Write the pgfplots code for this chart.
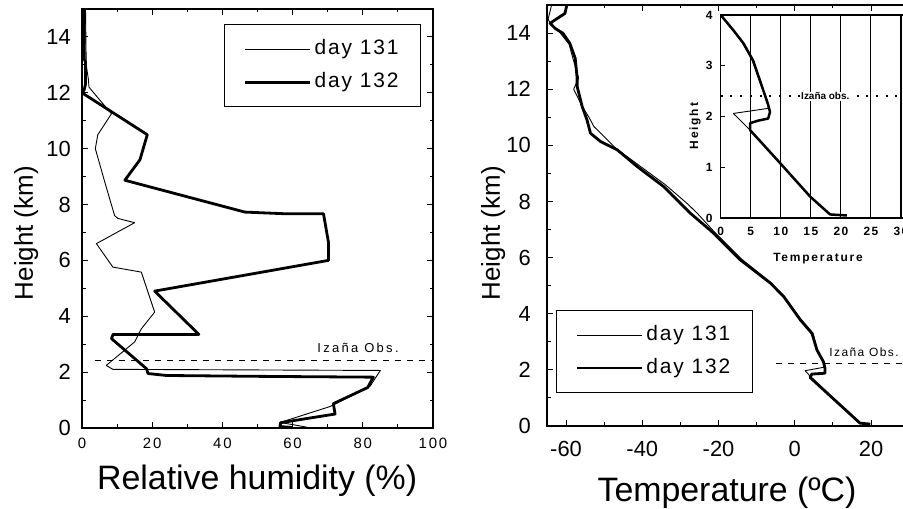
\documentclass[border=0pt]{standalone}
\usepackage{pgfplots}
\pgfplotsset{compat=1.18}
\usepackage{pgfplotstable}
\usepackage{fontspec}
\setmainfont{Liberation Sans}
\newfontfamily\legfont[LetterSpace=9]{Liberation Sans}
\newfontfamily\obsfont[LetterSpace=18]{Liberation Sans}
\newfontfamily\spacedfont[LetterSpace=12]{Liberation Sans}
\newfontfamily\insetfont[LetterSpace=15]{Liberation Sans}

% relative humidity (%) vs height (km)
\pgfplotstableread{
x y
1.0 15.0
1.2 13.0
1.8 12.5
2.0 12.2
4.0 11.9
8.4 11.25
4.5 10.5
3.8 10.0
6.5 8.8
9.3 7.6
10.3 7.5
15.0 7.35
4.1 6.6
8.8 5.76
16.9 5.58
20.7 4.15
16.9 3.55
15.0 3.08
6.9 2.24
8.8 2.10
85.0 2.06
82.1 1.50
70.7 0.77
56.5 0.20
64.0 0.03
}\rhA
\pgfplotstableread{
x y
0.65 15.0
0.65 13.2
1.0 13.1
1.0 12.3
0.6 12.1
0.0 12.0
18.6 10.5
16.5 9.6
12.2 8.87
46.4 7.73
57.8 7.67
68.8 7.67
70.2 6.66
70.2 6.0
20.7 4.9
33.3 3.35
8.85 3.35
8.4 3.2
18.4 2.12
18.8 1.95
24.1 1.88
49.3 1.85
83.0 1.82
81.4 1.45
71.6 0.87
72.1 0.50
56.6 0.19
56.4 0.05
60.0 0.02
}\rhB

% temperature (C) vs height (km)
\pgfplotstableread{
x y
-63.8 15.0
-64.7 14.5
-64.0 14.3
-61.5 14.0
-59.2 13.6
-58.0 13.0
-56.7 12.4
-58.0 12.0
-55.8 11.4
-54.0 11.0
-52.7 10.67
-47.0 9.9
-41.0 9.3
-34.0 8.6
-28.0 7.9
-25.6 7.58
-21.0 6.9
-14.0 5.95
-6.2 5.1
-2.7 4.6
1.6 3.8
4.8 3.3
5.9 2.7
7.6 2.25
7.9 2.10
2.7 1.97
4.2 1.75
17.0 0.10
20.0 0.07
}\tA
\pgfplotstableread{
x y
-59.8 15.0
-60.3 14.7
-64.2 14.35
-62.9 14.17
-60.8 13.99
-59.0 13.63
-57.6 13.1
-57.1 12.4
-57.1 12.1
-55.8 11.39
-54.5 10.9
-53.6 10.43
-51.0 10.14
-46.6 9.84
-41.4 9.25
-34.4 8.53
-27.4 7.58
-21.3 6.87
-14.3 5.92
-6.4 5.09
-2.9 4.61
1.45 3.78
4.5 3.3
5.8 2.71
7.5 2.29
7.9 2.06
7.9 1.88
4.45 1.85
4.0 1.73
17.1 0.10
19.7 0.07
}\tB

% inset, lowest 4 km
\pgfplotstableread{
x y
0.0 4.0
2.0 3.72
3.6 3.45
5.2 3.12
6.3 2.75
7.8 2.30
7.9 2.16
2.1 2.06
4.9 1.73
9.9 1.08
14.9 0.42
18.2 0.07
21.0 0.05
}\iA
\pgfplotstableread{
x y
0.0 4.0
2.1 3.7
3.8 3.44
5.4 3.1
6.5 2.72
7.9 2.23
8.2 2.09
7.9 1.96
6.3 1.92
4.9 1.87
4.9 1.73
9.9 1.08
14.9 0.42
18.2 0.07
21.0 0.05
}\iB

\pgfplotsset{
  mainax/.style={
    scale only axis,
    anchor=south west,
    axis line style={line width=1.3bp},
    every tick/.style={black, line width=1bp},
    tick align=inside, tick pos=both,
    major tick length=6bp, minor tick length=3.5bp,
    /pgf/number format/assume math mode=true,
    ymin=0, ymax=15, ytick={0,2,...,14}, minor y tick num=1,
    minor x tick num=1,
    yticklabel style={font=\fontsize{22}{24}\selectfont, inner sep=0pt},
    label style={font=\fontsize{34}{38}\selectfont},
    legend cell align=left,
    legend image code/.code={\draw[#1] (0bp,0bp) -- (65bp,0bp);},
    legend style={draw=black, line width=1.2bp, inner xsep=19bp, inner ysep=12.5bp,
      nodes={inner sep=3bp, text height=14bp, text depth=4bp},
      row sep=9bp, font=\legfont\fontsize{21}{24}\selectfont},
  },
  thin131/.style={black, line width=0.9bp, line join=round},
  thick132/.style={black, line width=2.8bp, line join=round},
}

\begin{document}
\begin{tikzpicture}
\useasboundingbox (0,0) rectangle (903bp,509bp);
\clip (0,0) rectangle (903bp,509bp);

% left panel
\begin{axis}[mainax,
  at={(82bp,81bp)}, width=351bp, height=419bp,
  xmin=0, xmax=100, xtick={0,20,...,100},
  xticklabel style={font=\spacedfont\fontsize{15}{17}\selectfont, inner sep=0pt, yshift=-10bp},
  yticklabel style={xshift=-11bp},
  xlabel={Relative humidity (\%)},
  ylabel={Height (km)},
  xlabel style={at={(axis description cs:0.499,-0.1456)}, anchor=base},
  ylabel style={at={(axis description cs:-0.1396,0.465)}, anchor=base, font=\fontsize{26}{30}\selectfont},
  legend style={at={(0.966,0.964)}, anchor=north east},
]
\addplot[thin131] table {\rhA};
\addplot[thick132] table {\rhB};
\legend{day 131, day 132}
\addplot[forget plot, black, line width=1bp, dash pattern=on 6bp off 6bp] coordinates {(3.6,2.4) (100,2.4)};
\node[anchor=base west, inner sep=0pt, font=\obsfont\fontsize{13}{15}\selectfont] at (axis cs:67,2.72) {Izaña Obs.};
\end{axis}

% right panel
\begin{axis}[mainax,
  at={(547bp,83bp)}, width=362.2bp, height=421bp,
  xmin=-65, xmax=30, xtick={-60,-40,...,20},
  xticklabel style={font=\fontsize{22}{24}\selectfont, inner sep=0pt, yshift=-15bp},
  yticklabel style={xshift=-16bp},
  xlabel={Temperature (ºC)},
  ylabel={Height (km)},
  xlabel style={at={(axis description cs:0.497,-0.1805)}, anchor=base},
  ylabel style={at={(axis description cs:-0.13,0.458)}, anchor=base, font=\fontsize{26}{30}\selectfont},
  legend style={at={(0.025,0.078)}, anchor=south west},
]
\addplot[thin131] table {\tA};
\addplot[thick132] table {\tB};
\legend{day 131, day 132}
\addplot[forget plot, black, line width=1bp, dash pattern=on 6bp off 6bp] coordinates {(-5,2.23) (30,2.23)};
\node[anchor=base west, inner sep=0pt, font=\spacedfont\fontsize{12}{14}\selectfont] at (axis cs:9.0,2.46) {Izaña Obs.};
\end{axis}

% inset
\begin{axis}[
  scale only axis, anchor=south west,
  at={(720.7bp,291bp)}, width=192.3bp, height=203bp,
  xmin=0, xmax=32, ymin=0, ymax=4,
  xtick={0,5,...,30}, ytick={0,1,...,4},
  xmajorgrids, grid style={black, line width=1.1bp},
  axis background/.style={fill=white},
  axis line style={line width=1.2bp},
  every tick/.style={black, line width=0.9bp},
  tick align=inside, tick pos=left, major tick length=4bp,
  /pgf/number format/assume math mode=true,
  ticklabel style={font=\spacedfont\bfseries\fontsize{12}{14}\selectfont, inner sep=0pt},
  xticklabel style={yshift=-9bp},
  yticklabel style={xshift=-8bp},
  xlabel={Temperature}, ylabel={Height},
  label style={font=\insetfont\bfseries\fontsize{12}{14}\selectfont},
  xlabel style={at={(axis description cs:0.506,-0.215)}, anchor=base},
  ylabel style={at={(axis description cs:-0.118,0.453)}, anchor=base},
]
\addplot[black, line width=0.9bp, line join=round] table {\iA};
\addplot[black, line width=2.5bp, line join=round] table {\iB};
\addplot[black, line width=1.5bp, dash pattern=on 2bp off 7.7bp] coordinates {(0,2.4) (32,2.4)};
\node[anchor=west, fill=white, inner sep=1bp, font=\bfseries\fontsize{10}{12}\selectfont] at (axis cs:13.2,2.4) {Izaña obs.};
\end{axis}
\end{tikzpicture}
\end{document}
